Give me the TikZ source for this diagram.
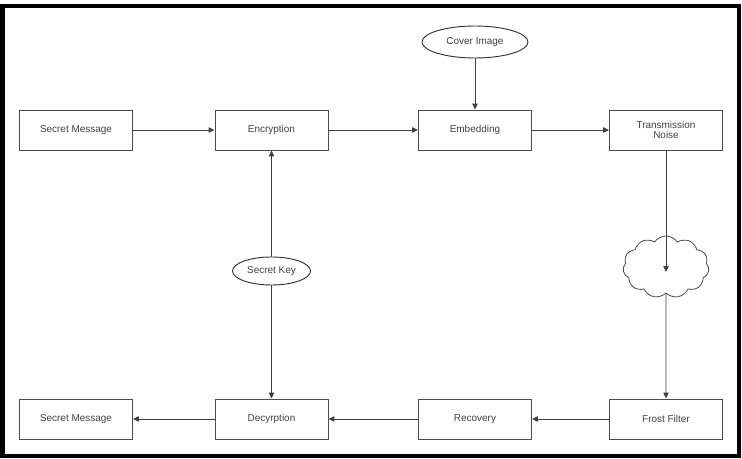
\documentclass[tikz,border=0pt]{standalone}
\usepackage{fontspec}
\setmainfont{Liberation Sans}
\usetikzlibrary{shapes.geometric,shapes.symbols,arrows.meta}

\begin{document}
\begin{tikzpicture}[x=0.03cm,y=-0.03cm,
    box/.style={draw=black!70,line width=0.8pt,minimum width=113*0.03cm,minimum height=40*0.03cm,align=center,font=\fontsize{8.5}{9}\selectfont,text=black!75},
    oval/.style={draw=black!80,ellipse,line width=0.8pt,font=\fontsize{8.5}{9}\selectfont,text=black!75,inner sep=0pt},
    arr/.style={draw=black!75,line width=0.8pt,-{Triangle[length=5pt,width=4.5pt]}}]
    \useasboundingbox (0,0) rectangle (742,459);
    \draw[line width=4pt] (2.5,6) rectangle (739,456);

    \coordinate (A1) at (76, 130);
    \coordinate (A2) at (271.5, 130);
    \coordinate (A3) at (475, 130);
    \coordinate (A4) at (666, 130);
    \coordinate (B1) at (76, 419);
    \coordinate (B2) at (271.5, 419);
    \coordinate (B3) at (475, 419);
    \coordinate (B4) at (666, 419);

    \coordinate (C1) at (475, 42);
    \coordinate (C2) at (271.5, 271);
    \coordinate (C3) at (666, 267);

%boxes
    \node[box] (msgin) at (A1) {Secret Message};
    \node[box] (enc) at (A2) {Encryption};
    \node[box] (emb) at (A3) {Embedding};
    \node[box] (noise) at (A4) {Transmission\\[-1pt]Noise};
    \node[box] (msgout) at (B1) {Secret Message};
    \node[box] (dec) at (B2) {Decyrption};
    \node[box] (rec) at (B3) {Recovery};
    \node[box] (frost) at (B4) {Frost Filter};

%ovals
    \node[oval,minimum width=106*0.03cm,minimum height=32*0.03cm] (cover) at (C1) {Cover Image};
    \node[oval,minimum width=78*0.03cm,minimum height=28*0.03cm] (key) at (C2) {Secret Key};
    \node[cloud,cloud puffs=11,cloud puff arc=110,aspect=1.3,draw=black!70,line width=0.7pt,minimum width=86*0.03cm,minimum height=62*0.03cm] (cloud) at (C3) {};
    \coordinate (D1) at (666, 272);

%arrows
    \draw[arr] (msgin) -- (enc);
    \draw[arr] (enc) -- (emb);
    \draw[arr] (emb) -- (noise);
    \draw[arr] (cover) -- (emb);
    \draw[arr] (key) -- (enc);
    \draw[arr] (key) -- (dec);
    \draw[arr] (noise) -- (D1);
    \draw[arr] (cloud.south) -- (frost);
    \draw[arr] (frost) -- (rec);
    \draw[arr] (rec) -- (dec);
    \draw[arr] (dec) -- (msgout);

\end{tikzpicture}
\end{document}
